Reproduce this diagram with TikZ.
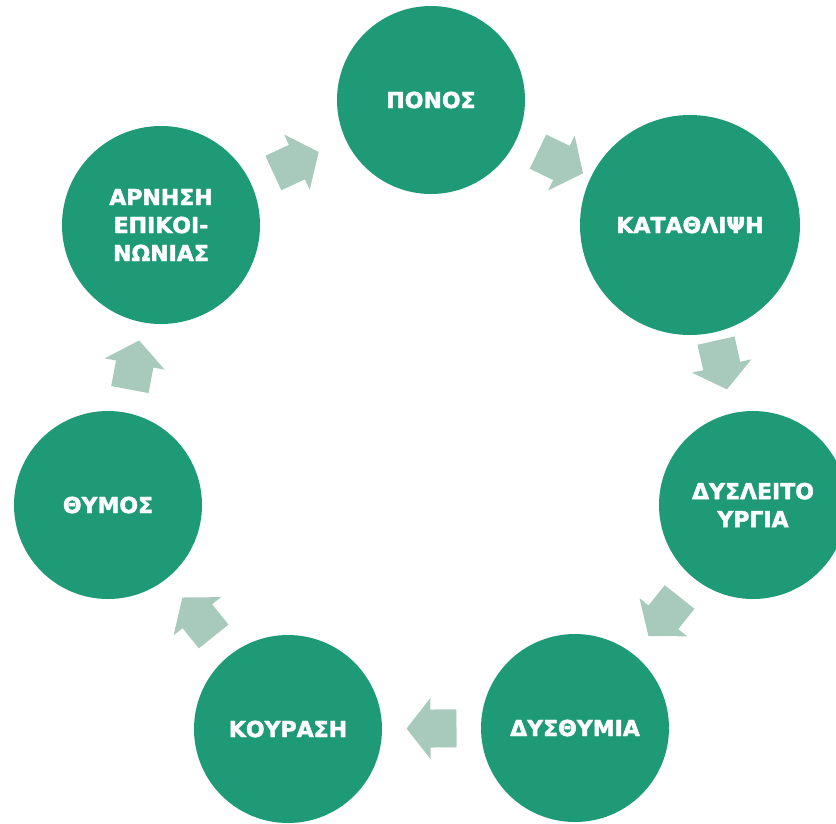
\documentclass[tikz,border=0pt]{standalone}
\usepackage{fontspec}
\setmainfont{DejaVu Sans}[BoldFeatures={FakeBold=2}]
\usetikzlibrary{calc}
\definecolor{circgreen}{HTML}{1F9A77}
\definecolor{arrowgreen}{HTML}{A8CABD}
\tikzset{
  circ/.style={circle, fill=circgreen, inner sep=0pt, text=white,
    font=\bfseries\fontsize{22}{28}\selectfont, align=center},
  blockarrow/.pic={\fill[arrowgreen] (-25,-19) -- (1,-19) -- (1,-30.5) -- (25,0) -- (1,30.5) -- (1,19) -- (-25,19) -- cycle;}
}
\begin{document}
\begin{tikzpicture}[x=1pt,y=-1pt]
\useasboundingbox (0,0) rectangle (836,823);
\node[circ, minimum size=188] (ponos) at (431,100) {ΠΟΝΟΣ};
\node[circ, minimum size=220] (katathlipsi) at (690,225) {ΚΑΤΑΘΛΙΨΗ};
\node[circ, minimum size=188] (dysleit) at (753,505) {ΔΥΣΛΕΙΤΟ\\ΥΡΓΙΑ};
\node[circ, minimum size=188] (dysthymia) at (575,728) {ΔΥΣΘΥΜΙΑ};
\node[circ, minimum size=188] (kourasi) at (288,729) {ΚΟΥΡΑΣΗ};
\node[circ, minimum size=188] (thymos) at (108,505) {ΘΥΜΟΣ};
\node[circ, minimum size=198] (arnisi) at (161,225) {ΑΡΝΗΣΗ\\ΕΠΙΚΟΙ-\\ΝΩΝΙΑΣ};
\foreach \a/\b in {arnisi/ponos, ponos/katathlipsi, katathlipsi/dysleit, dysleit/dysthymia, dysthymia/kourasi, kourasi/thymos, thymos/arnisi}{
  \path let \p1=($(\b.center)-(\a.center)$), \n1={atan2(\y1,\x1)} in
    ($(\a.center)!0.5!(\b.center)$) pic[rotate=\n1] {blockarrow};
}
\end{tikzpicture}
\end{document}
